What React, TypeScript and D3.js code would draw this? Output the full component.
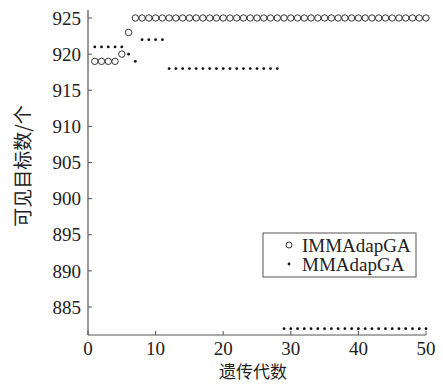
import React from "react";
import * as d3 from "d3";

const generations = d3.range(1, 51);
const immaValues = [919, 919, 919, 919, 920, 923, ...Array(44).fill(925)];
const mmaValues = [
  921, 921, 921, 921, 921, 920, 919, 922, 922, 922, 922,
  ...Array(17).fill(918),
  ...Array(22).fill(882),
];
const xTicks = [0, 10, 20, 30, 40, 50];
const yTicks = [885, 890, 895, 900, 905, 910, 915, 920, 925];

const W = 443, H = 385;
const serif = "'Liberation Serif', 'Times New Roman', serif";
const cjk = "'Noto Sans CJK SC', sans-serif";

export default function App() {
  const x = d3.scaleLinear().domain([0, 50]).range([88, 426]);
  const y = d3.scaleLinear().domain([885, 925]).range([307, 18]);
  const yTop = y(926.1);
  const yBot = 335;
  const axisColor = "#555";
  return (
    <svg width={W} height={H} style={{ position: "absolute", left: 0, top: 0, background: "#fff" }}>
      <rect width={W} height={H} fill="#fff" />
      <line x1={x(0)} x2={x(0)} y1={yTop} y2={yBot} stroke={axisColor} strokeWidth={1.2} />
      <line x1={x(0)} x2={x(50)} y1={yBot} y2={yBot} stroke={axisColor} strokeWidth={1.2} />
      {yTicks.map((t) => (
        <g key={"y" + t}>
          <line x1={x(0)} x2={x(0) + 4} y1={y(t)} y2={y(t)} stroke={axisColor} strokeWidth={1} />
          <text x={x(0) - 7} y={y(t)} dy="0.35em" textAnchor="end" fontFamily={serif} fontSize={19} fill="#222">
            {t}
          </text>
        </g>
      ))}
      {xTicks.map((t) => (
        <g key={"x" + t}>
          <line x1={x(t)} x2={x(t)} y1={yBot} y2={yBot - 4} stroke={axisColor} strokeWidth={1} />
          <text x={x(t)} y={355} textAnchor="middle" fontFamily={serif} fontSize={19} fill="#222">
            {t}
          </text>
        </g>
      ))}
      <text x={253} y={378} textAnchor="middle" fontFamily={cjk} fontSize={17} fill="#222">
        遗传代数
      </text>
      <text
        transform={`translate(30,166) rotate(-90)`}
        textAnchor="middle"
        fontFamily={cjk}
        fontSize={19}
        fill="#222"
      >
        可见目标数/个
      </text>
      {generations.map((g, i) => (
        <circle key={"c" + g} cx={x(g)} cy={y(immaValues[i])} r={3.2} fill="none" stroke="#222" strokeWidth={0.9} />
      ))}
      {generations.map((g, i) => (
        <circle key={"d" + g} cx={x(g)} cy={y(mmaValues[i])} r={1.4} fill="#111" />
      ))}
      <rect x={263} y={233} width={153} height={44} fill="#fff" stroke={axisColor} strokeWidth={1} />
      <circle cx={289} cy={245} r={3} fill="none" stroke="#222" strokeWidth={0.9} />
      <text x={302} y={245} dy="0.35em" fontFamily={serif} fontSize={19} fill="#222">IMMAdapGA</text>
      <circle cx={289} cy={264} r={1.4} fill="#111" />
      <text x={302} y={264} dy="0.35em" fontFamily={serif} fontSize={19} fill="#222">MMAdapGA</text>
    </svg>
  );
}
